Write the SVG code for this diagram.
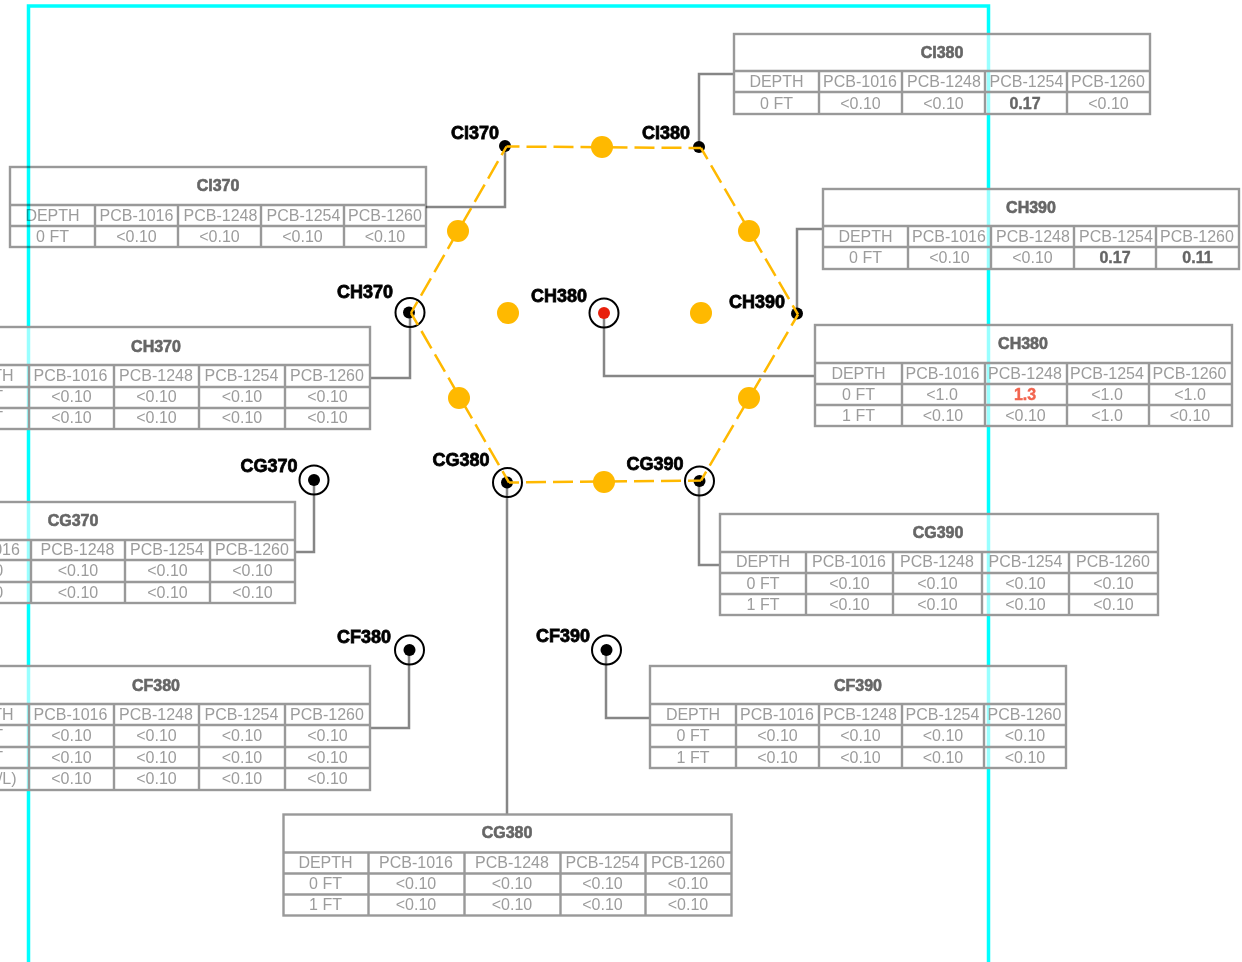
<svg xmlns="http://www.w3.org/2000/svg" width="1242" height="962" viewBox="0 0 1242 962">
<style>
text{font-family:"Liberation Sans",Arial,sans-serif;text-anchor:middle}
.c{font-size:16px;fill:#9c9c9c}
.t{font-size:16px;font-weight:bold;fill:#666;stroke:#666;stroke-width:.6}
.b{font-size:16px;font-weight:bold;fill:#666;stroke:#666;stroke-width:.4}
.r{font-size:16px;font-weight:bold;fill:#f2644e;stroke:#f2644e;stroke-width:.4}
.l{font-size:18px;font-weight:bold;fill:#000;stroke:#000;stroke-width:.8}
.g{fill:#fff;fill-opacity:.6;stroke:#999;stroke-width:2.400}
.s{fill:none;stroke:#999;stroke-width:2.400}
.k{fill:none;stroke:#868686;stroke-width:2.500}
.o{fill:#ffb900}
.d{fill:#000}
.ring{fill:none;stroke:#000;stroke-width:2}
.m{mix-blend-mode:multiply}
</style>
<rect x="28.500" y="6" width="960" height="970" fill="none" stroke="#00ffff" stroke-width="3.500"/>
<g id="connectors">
<path class="k" d="M505 146V207H426"/><path class="k" d="M699 147V74H734"/><path class="k" d="M797 313V229H823"/><path class="k" d="M410 312V378H370"/><path class="k" d="M604 313V376H815"/><path class="k" d="M314 480V552H295"/><path class="k" d="M699 481V565H720"/><path class="k" d="M409 650V728H370"/><path class="k" d="M606 650V718H650"/><path class="k" d="M507 482V814"/>
</g>
<g id="node-CI370"><circle class="d" cx="505" cy="146" r="6"/><text class="l" x="475" y="139">CI370</text></g>
<g id="node-CI380"><circle class="d" cx="699" cy="147" r="6"/><text class="l" x="666" y="139">CI380</text></g>
<g id="node-CH390"><circle class="d" cx="797" cy="313.500" r="6"/><text class="l" x="757" y="308">CH390</text></g>
<g id="node-CH370"><circle class="d" cx="409" cy="312.500" r="6"/><circle class="ring" cx="410" cy="312.500" r="14.500"/><text class="l" x="365" y="298">CH370</text></g>
<g id="node-CH380"><circle cx="604" cy="313" r="6" fill="#e8200c"/><circle class="ring" cx="604" cy="313" r="14.500"/><text class="l" x="559" y="302">CH380</text></g>
<g id="node-CG370"><circle class="d" cx="314" cy="480" r="6"/><circle class="ring" cx="314" cy="480" r="14.500"/><text class="l" x="269" y="472">CG370</text></g>
<g id="node-CG380"><circle class="d" cx="507" cy="482.500" r="6"/><circle class="ring" cx="507.500" cy="482.500" r="14.500"/><text class="l" x="461" y="466">CG380</text></g>
<g id="node-CG390"><circle class="d" cx="699.500" cy="481" r="6"/><circle class="ring" cx="699.500" cy="481" r="14.500"/><text class="l" x="655" y="470">CG390</text></g>
<g id="node-CF380"><circle class="d" cx="409.500" cy="650" r="6"/><circle class="ring" cx="409.500" cy="650" r="14.500"/><text class="l" x="364" y="643">CF380</text></g>
<g id="node-CF390"><circle class="d" cx="606.500" cy="650" r="6"/><circle class="ring" cx="606.500" cy="650" r="14.500"/><text class="l" x="563" y="642">CF390</text></g>
<g id="hexagon">
<path fill="none" stroke="#ffb900" stroke-width="2.500" stroke-dasharray="20 7" stroke-dashoffset="7" d="M506.500 146.500L701 148M701 148L798 314.500M798 314.500L701 480.500M701 480.500L509 482.500M509 482.500L411 313M411 313L506.500 146.500"/>
<circle class="o" cx="602" cy="147" r="11"/><circle class="o" cx="749" cy="231" r="11"/><circle class="o" cx="749" cy="398" r="11"/><circle class="o" cx="604" cy="482" r="11"/><circle class="o" cx="459" cy="398" r="11"/><circle class="o" cx="458" cy="231" r="11"/><circle class="o" cx="508" cy="313" r="11"/><circle class="o" cx="701" cy="313" r="11"/>
</g>
<g id="table-CI380"><rect class="g" x="734" y="34" width="416" height="80"/><path class="s" d="M734 71H1150M734 92H1150M819 71V114M902 71V114M985 71V114M1067 71V114"/><text class="t" x="942" y="58">CI380</text>
<text class="c" x="776.500" y="87">DEPTH</text><text class="c" x="860" y="87">PCB-1016</text><text class="c" x="944" y="87">PCB-1248</text><text class="c" x="1026.500" y="87">PCB-1254</text><text class="c" x="1108" y="87">PCB-1260</text>
<text class="c" x="776.500" y="109">0 FT</text><text class="c" x="860.500" y="109">&lt;0.10</text><text class="c" x="943.500" y="109">&lt;0.10</text><text class="b" x="1025" y="109">0.17</text><text class="c" x="1108.500" y="109">&lt;0.10</text></g>
<g id="table-CH390"><rect class="g" x="823" y="189" width="416" height="80"/><path class="s" d="M823 226H1239M823 247H1239M908 226V269M991 226V269M1074 226V269M1156 226V269"/><text class="t" x="1031" y="213">CH390</text>
<text class="c" x="865.500" y="242">DEPTH</text><text class="c" x="949" y="242">PCB-1016</text><text class="c" x="1033" y="242">PCB-1248</text><text class="c" x="1116" y="242">PCB-1254</text><text class="c" x="1197" y="242">PCB-1260</text>
<text class="c" x="865.500" y="263">0 FT</text><text class="c" x="949.500" y="263">&lt;0.10</text><text class="c" x="1032.500" y="263">&lt;0.10</text><text class="b" x="1115" y="263">0.17</text><text class="b" x="1197.500" y="263">0.11</text></g>
<g id="table-CI370" class="m"><rect class="s" x="10" y="167" width="416" height="80"/><path class="s" d="M10 205H426M10 226H426M95 205V247M178 205V247M261 205V247M344 205V247"/><text class="t" x="218" y="191">CI370</text>
<text class="c" x="52.500" y="221">DEPTH</text><text class="c" x="136.500" y="221">PCB-1016</text><text class="c" x="220.500" y="221">PCB-1248</text><text class="c" x="303.500" y="221">PCB-1254</text><text class="c" x="385" y="221">PCB-1260</text>
<text class="c" x="52.500" y="242">0 FT</text><text class="c" x="136.500" y="242">&lt;0.10</text><text class="c" x="219.500" y="242">&lt;0.10</text><text class="c" x="302.500" y="242">&lt;0.10</text><text class="c" x="385" y="242">&lt;0.10</text></g>
<g id="table-CH370"><rect class="g" x="-56" y="327" width="426" height="102"/><path class="s" d="M-56 365H370M-56 387H370M-56 408H370M29 365V429M114 365V429M199 365V429M285 365V429"/><text class="t" x="156" y="352">CH370</text>
<text class="c" x="-13.500" y="381">DEPTH</text><text class="c" x="70.500" y="381">PCB-1016</text><text class="c" x="156" y="381">PCB-1248</text><text class="c" x="241.500" y="381">PCB-1254</text><text class="c" x="327" y="381">PCB-1260</text>
<text class="c" x="-13.500" y="402">0 FT</text><text class="c" x="71.500" y="402">&lt;0.10</text><text class="c" x="156.500" y="402">&lt;0.10</text><text class="c" x="242" y="402">&lt;0.10</text><text class="c" x="327.500" y="402">&lt;0.10</text>
<text class="c" x="-13.500" y="423">1 FT</text><text class="c" x="71.500" y="423">&lt;0.10</text><text class="c" x="156.500" y="423">&lt;0.10</text><text class="c" x="242" y="423">&lt;0.10</text><text class="c" x="327.500" y="423">&lt;0.10</text></g>
<g id="table-CH380"><rect class="g" x="815" y="325" width="417" height="101"/><path class="s" d="M815 363H1232M815 384H1232M815 405H1232M902 363V426M985 363V426M1067 363V426M1149 363V426"/><text class="t" x="1023" y="349">CH380</text>
<text class="c" x="858.500" y="379">DEPTH</text><text class="c" x="942.500" y="379">PCB-1016</text><text class="c" x="1025" y="379">PCB-1248</text><text class="c" x="1107" y="379">PCB-1254</text><text class="c" x="1189.500" y="379">PCB-1260</text>
<text class="c" x="858.500" y="400">0 FT</text><text class="c" x="942" y="400">&lt;1.0</text><text class="r" x="1025" y="400">1.3</text><text class="c" x="1107" y="400">&lt;1.0</text><text class="c" x="1190" y="400">&lt;1.0</text>
<text class="c" x="858.500" y="421">1 FT</text><text class="c" x="943" y="421">&lt;0.10</text><text class="c" x="1025.500" y="421">&lt;0.10</text><text class="c" x="1107" y="421">&lt;1.0</text><text class="c" x="1190" y="421">&lt;0.10</text></g>
<g id="table-CG370"><rect class="g" x="-149" y="502" width="444" height="101"/><path class="s" d="M-149 540H295M-149 560H295M-149 582H295M31 540V603M125 540V603M210 540V603"/><text class="t" x="73" y="526">CG370</text>
<text class="c" x="-17" y="555">PCB-1016</text><text class="c" x="77.500" y="555">PCB-1248</text><text class="c" x="167" y="555">PCB-1254</text><text class="c" x="252" y="555">PCB-1260</text>
<text class="c" x="-17" y="576">&lt;0.10</text><text class="c" x="78" y="576">&lt;0.10</text><text class="c" x="167.500" y="576">&lt;0.10</text><text class="c" x="252.500" y="576">&lt;0.10</text>
<text class="c" x="-17" y="598">&lt;0.10</text><text class="c" x="78" y="598">&lt;0.10</text><text class="c" x="167.500" y="598">&lt;0.10</text><text class="c" x="252.500" y="598">&lt;0.10</text></g>
<g id="table-CG390"><rect class="g" x="720" y="514" width="438" height="101"/><path class="s" d="M720 552H1158M720 573H1158M720 594H1158M806 552V615M893 552V615M982 552V615M1069 552V615"/><text class="t" x="938" y="538">CG390</text>
<text class="c" x="763" y="567">DEPTH</text><text class="c" x="849" y="567">PCB-1016</text><text class="c" x="937" y="567">PCB-1248</text><text class="c" x="1025.500" y="567">PCB-1254</text><text class="c" x="1113" y="567">PCB-1260</text>
<text class="c" x="763" y="589">0 FT</text><text class="c" x="849.500" y="589">&lt;0.10</text><text class="c" x="937.500" y="589">&lt;0.10</text><text class="c" x="1025.500" y="589">&lt;0.10</text><text class="c" x="1113.500" y="589">&lt;0.10</text>
<text class="c" x="763" y="610">1 FT</text><text class="c" x="849.500" y="610">&lt;0.10</text><text class="c" x="937.500" y="610">&lt;0.10</text><text class="c" x="1025.500" y="610">&lt;0.10</text><text class="c" x="1113.500" y="610">&lt;0.10</text></g>
<g id="table-CF390"><rect class="g" x="650" y="666" width="416" height="102"/><path class="s" d="M650 704H1066M650 725H1066M650 747H1066M736 704V768M819 704V768M902 704V768M984 704V768"/><text class="t" x="858" y="691">CF390</text>
<text class="c" x="693" y="720">DEPTH</text><text class="c" x="777" y="720">PCB-1016</text><text class="c" x="860" y="720">PCB-1248</text><text class="c" x="942.500" y="720">PCB-1254</text><text class="c" x="1024.500" y="720">PCB-1260</text>
<text class="c" x="693" y="741">0 FT</text><text class="c" x="777.500" y="741">&lt;0.10</text><text class="c" x="860.500" y="741">&lt;0.10</text><text class="c" x="943" y="741">&lt;0.10</text><text class="c" x="1025" y="741">&lt;0.10</text>
<text class="c" x="693" y="763">1 FT</text><text class="c" x="777.500" y="763">&lt;0.10</text><text class="c" x="860.500" y="763">&lt;0.10</text><text class="c" x="943" y="763">&lt;0.10</text><text class="c" x="1025" y="763">&lt;0.10</text></g>
<g id="table-CF380"><rect class="g" x="-56" y="666" width="426" height="124"/><path class="s" d="M-56 704H370M-56 725H370M-56 747H370M-56 768H370M29 704V790M114 704V790M199 704V790M285 704V790"/><text class="t" x="156" y="691">CF380</text>
<text class="c" x="-13.500" y="720">DEPTH</text><text class="c" x="70.500" y="720">PCB-1016</text><text class="c" x="156" y="720">PCB-1248</text><text class="c" x="241.500" y="720">PCB-1254</text><text class="c" x="327" y="720">PCB-1260</text>
<text class="c" x="-13.500" y="741">0 FT</text><text class="c" x="71.500" y="741">&lt;0.10</text><text class="c" x="156.500" y="741">&lt;0.10</text><text class="c" x="242" y="741">&lt;0.10</text><text class="c" x="327.500" y="741">&lt;0.10</text>
<text class="c" x="-13.500" y="763">1 FT</text><text class="c" x="71.500" y="763">&lt;0.10</text><text class="c" x="156.500" y="763">&lt;0.10</text><text class="c" x="242" y="763">&lt;0.10</text><text class="c" x="327.500" y="763">&lt;0.10</text>
<text class="c" x="-3" y="784">(W/L)</text><text class="c" x="71.500" y="784">&lt;0.10</text><text class="c" x="156.500" y="784">&lt;0.10</text><text class="c" x="242" y="784">&lt;0.10</text><text class="c" x="327.500" y="784">&lt;0.10</text></g>
<g id="table-CG380"><rect class="g" x="283.500" y="814.500" width="448" height="101"/><path class="s" d="M283 852.500H731M283 873.500H731M283 894.500H731M368.500 852V915M464.500 852V915M560.500 852V915M645.500 852V915"/><text class="t" x="507" y="838">CG380</text>
<text class="c" x="325.500" y="868">DEPTH</text><text class="c" x="416" y="868">PCB-1016</text><text class="c" x="512" y="868">PCB-1248</text><text class="c" x="602.500" y="868">PCB-1254</text><text class="c" x="688" y="868">PCB-1260</text>
<text class="c" x="325.500" y="889">0 FT</text><text class="c" x="416" y="889">&lt;0.10</text><text class="c" x="512" y="889">&lt;0.10</text><text class="c" x="602.500" y="889">&lt;0.10</text><text class="c" x="688" y="889">&lt;0.10</text>
<text class="c" x="325.500" y="910">1 FT</text><text class="c" x="416" y="910">&lt;0.10</text><text class="c" x="512" y="910">&lt;0.10</text><text class="c" x="602.500" y="910">&lt;0.10</text><text class="c" x="688" y="910">&lt;0.10</text></g>
</svg>
